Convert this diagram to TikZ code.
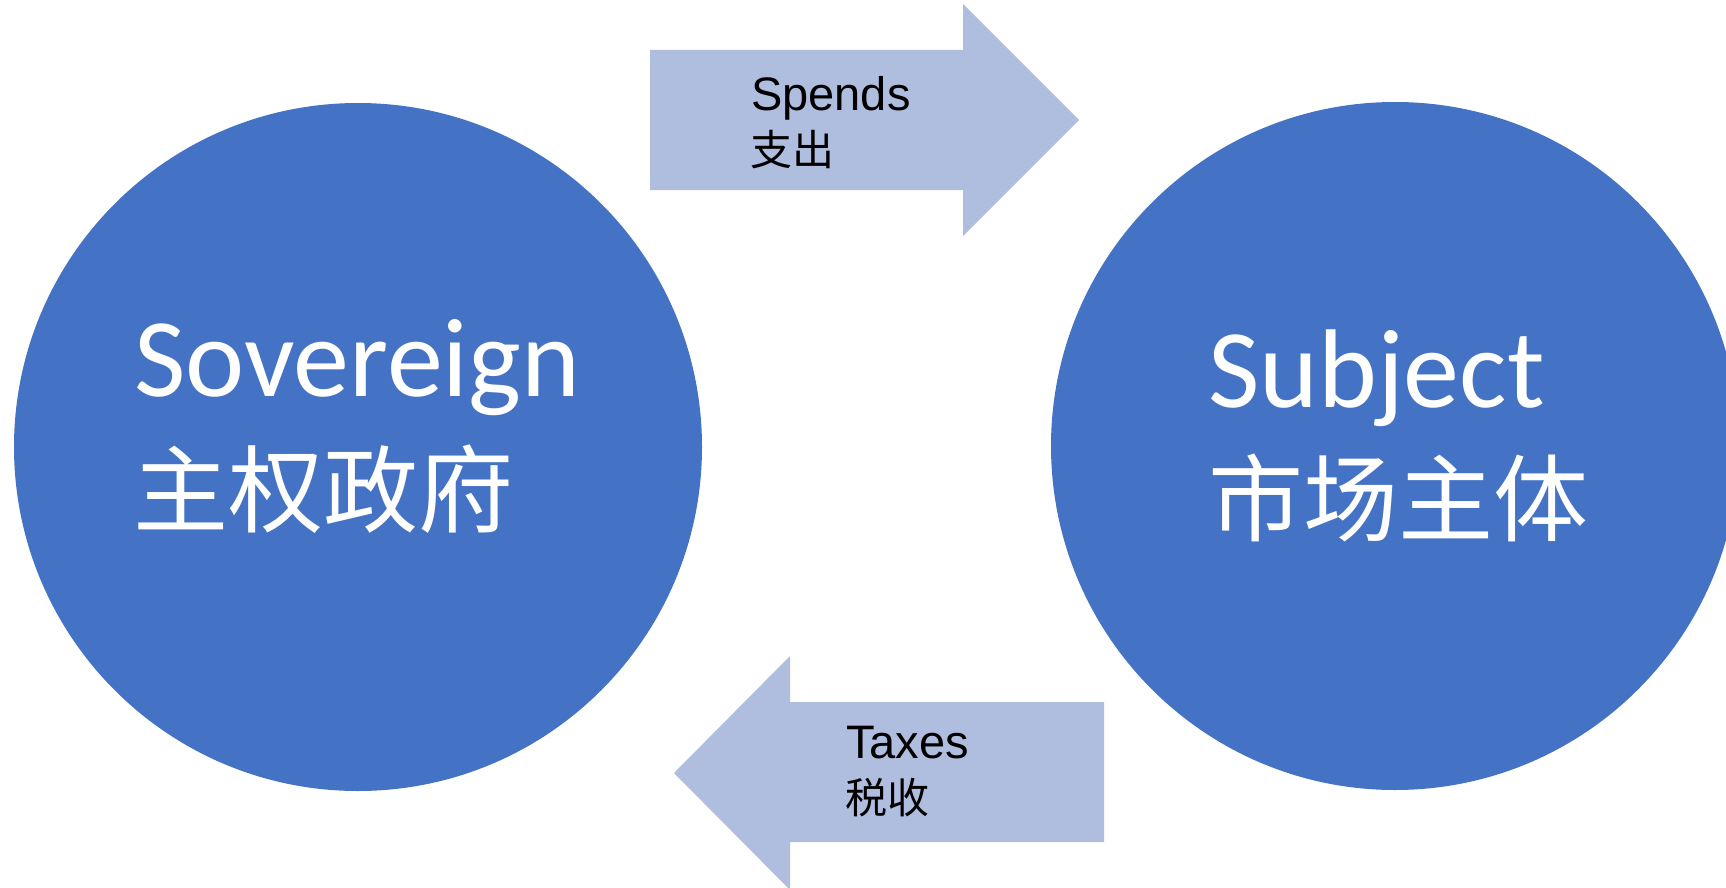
\documentclass[tikz,border=0pt]{standalone}
\usepackage{fontspec}
\newfontfamily\calfont{Carlito}
\newfontfamily\cjkfont{Noto Sans CJK SC}
\newfontfamily\arialfont{Liberation Sans}
\definecolor{circblue}{RGB}{68,114,196}
\definecolor{arrowblue}{RGB}{175,189,223}
\begin{document}
\begin{tikzpicture}[x=1pt,y=-1pt,
  bigcirc/.style={circle,fill=circblue,draw=none,minimum size=688pt,inner sep=0pt},
  bigtxt/.style={text=white,inner sep=0pt,anchor=base west,font=\calfont\fontsize{112}{130}\selectfont},
  bigcjk/.style={text=white,inner sep=0pt,anchor=base west,font=\cjkfont\fontsize{95}{110}\selectfont},
  arrtxt/.style={text=black,inner sep=0pt,anchor=base west,font=\arialfont\fontsize{47}{56}\selectfont},
  arrcjk/.style={text=black,inner sep=0pt,anchor=base west,font=\cjkfont\fontsize{42}{50}\selectfont},
  arrowshape/.style={fill=arrowblue,draw=none}]
\useasboundingbox (0,0) rectangle (1726,888);
\clip (0,0) rectangle (1726,888);
\fill[white] (0,0) rectangle (1726,888);
% circles
\node[bigcirc] (sov) at (358,447) {};
\node[bigcirc] (sub) at (1395,446) {};
% arrows
\fill[arrowshape] (650,50) -- (963,50) -- (963,4) -- (1079,120) -- (963,236) -- (963,190) -- (650,190) -- cycle;
\fill[arrowshape] (1104,702) -- (790,702) -- (790,656) -- (674,773) -- (790,890) -- (790,842) -- (1104,842) -- cycle;
% circle texts
\node[bigtxt] (sovE) at (134,396) {Sovereign};
\node[bigcjk] (sovC) at (133,525) {主权政府};
\node[bigtxt] (subE) at (1208,407) {Subject};
\node[bigcjk] (subC) at (1208,534) {市场主体};
% arrow texts
\node[arrtxt] (spE) at (751,111) {Spends};
\node[arrcjk] (spC) at (750,165) {支出};
\node[arrtxt] (taE) at (846,758) {Taxes};
\node[arrcjk] (taC) at (845,813) {税收};
\end{tikzpicture}
\end{document}
